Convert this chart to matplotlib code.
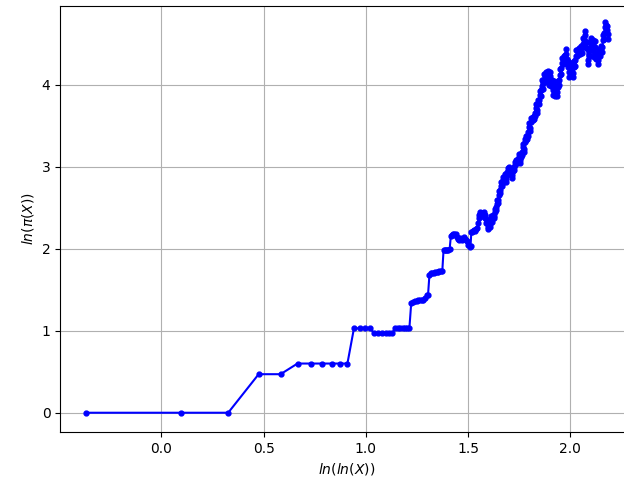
import matplotlib
matplotlib.use("Agg")
import matplotlib.pyplot as plt

# values: x = ln(ln(X)), y = ln(pi(X))
# sparse part (individual points visible)
lnlnX = [-0.367, 0.094, 0.327, 0.476, 0.583, 0.666, 0.732, 0.787, 0.834, 0.875,
         0.910, 0.942, 0.970, 0.996, 1.020, 1.041, 1.061, 1.080, 1.097, 1.113,
         1.128, 1.144, 1.157, 1.169, 1.181, 1.192, 1.203, 1.213,
         1.222, 1.231, 1.240, 1.249, 1.257, 1.265, 1.273, 1.281, 1.289, 1.297,
         1.304, 1.311, 1.318, 1.325, 1.332, 1.339, 1.346, 1.353, 1.360, 1.367, 1.374, 1.380,
         1.386, 1.392, 1.398, 1.404, 1.410, 1.416, 1.421, 1.427, 1.432, 1.437, 1.442, 1.447,
         1.452, 1.457, 1.462, 1.467, 1.472, 1.477, 1.482, 1.487, 1.492, 1.497, 1.502,
         1.507, 1.512, 1.516, 1.520, 1.525, 1.530, 1.535, 1.540, 1.545, 1.550]

ln_pi = [0.0, 0.0, 0.0, 0.47, 0.47, 0.60, 0.60, 0.60, 0.60, 0.60,
         0.60, 1.03, 1.03, 1.03, 1.03, 0.97, 0.97, 0.97, 0.97, 0.97,
         0.97, 1.03, 1.03, 1.03, 1.03, 1.03, 1.03, 1.03,
         1.34, 1.35, 1.36, 1.36, 1.37, 1.37, 1.37, 1.37, 1.40, 1.43,
         1.43, 1.68, 1.70, 1.71, 1.71, 1.72, 1.72, 1.72, 1.73, 1.73, 1.73, 1.98,
         1.98, 1.98, 1.99, 1.99, 2.00, 2.16, 2.17, 2.18, 2.18, 2.17, 2.18, 2.14,
         2.12, 2.11, 2.13, 2.12, 2.11, 2.12, 2.14, 2.12, 2.11, 2.10, 2.05,
         2.02, 2.03, 2.21, 2.20, 2.22, 2.23, 2.22, 2.24, 2.25, 2.32]

# dense part: points pile up, read as two edges of the blob
lnlnX_dense = [1.555, 1.560, 1.565, 1.570, 1.575, 1.580, 1.585, 1.590, 1.595, 1.600,
               1.605, 1.610, 1.615, 1.620, 1.625, 1.630, 1.635, 1.640, 1.645, 1.650,
               1.655, 1.660, 1.665, 1.670, 1.675, 1.680, 1.685, 1.690, 1.695, 1.700,
               1.705, 1.710, 1.715, 1.720, 1.725, 1.730, 1.735, 1.740, 1.745, 1.750,
               1.755, 1.760, 1.765, 1.770, 1.775, 1.780, 1.785, 1.790, 1.795, 1.800,
               1.805, 1.810, 1.815, 1.820, 1.825, 1.830, 1.835, 1.840, 1.845, 1.850,
               1.855, 1.860, 1.865, 1.870, 1.875, 1.880, 1.885, 1.890, 1.895, 1.900,
               1.905, 1.910, 1.915, 1.920, 1.925, 1.930, 1.935, 1.940, 1.945, 1.950,
               1.955, 1.960, 1.965, 1.970, 1.975, 1.980, 1.985, 1.990, 1.995, 2.000,
               2.005, 2.010, 2.015, 2.020, 2.025, 2.030, 2.035, 2.040, 2.045, 2.050,
               2.055, 2.060, 2.065, 2.070, 2.075, 2.080, 2.085, 2.090, 2.095, 2.100,
               2.105, 2.110, 2.115, 2.120, 2.125, 2.130, 2.135, 2.140, 2.145, 2.150,
               2.155, 2.160, 2.165, 2.170, 2.175, 2.180, 2.183]

ln_pi_dense = [2.41, 2.42, 2.43, 2.41, 2.43, 2.42, 2.41, 2.36, 2.27, 2.28,
               2.30, 2.37, 2.36, 2.38, 2.40, 2.45, 2.51, 2.55, 2.60, 2.66,
               2.72, 2.77, 2.80, 2.84, 2.85, 2.87, 2.85, 2.90, 2.98, 2.96,
               2.95, 2.92, 2.90, 2.95, 3.00, 3.02, 3.08, 3.04, 3.10, 3.12,
               3.08, 3.12, 3.18, 3.24, 3.22, 3.30, 3.37, 3.34, 3.42, 3.49,
               3.47, 3.55, 3.61, 3.58, 3.66, 3.72, 3.69, 3.78, 3.81, 3.88,
               3.93, 3.98, 4.02, 4.06, 4.10, 4.08, 4.12, 4.10, 4.06, 4.11,
               4.05, 3.99, 3.94, 3.98, 3.92, 3.93, 3.91, 3.97, 4.06, 4.12,
               4.20, 4.26, 4.32, 4.28, 4.36, 4.38, 4.32, 4.22, 4.15, 4.20,
               4.25, 4.20, 4.14, 4.22, 4.30, 4.35, 4.42, 4.38, 4.44, 4.40,
               4.46, 4.50, 4.56, 4.61, 4.52, 4.45, 4.30, 4.36, 4.42, 4.50,
               4.55, 4.48, 4.40, 4.46, 4.38, 4.32, 4.30, 4.36, 4.42, 4.40,
               4.46, 4.55, 4.63, 4.70, 4.73, 4.67, 4.62]

ln_pi_dense_edge = [2.38, 2.45, 2.40, 2.44, 2.40, 2.45, 2.38, 2.32, 2.24, 2.31,
                    2.27, 2.40, 2.33, 2.41, 2.37, 2.49, 2.47, 2.59, 2.56, 2.70,
                    2.68, 2.81, 2.76, 2.88, 2.81, 2.91, 2.81, 2.94, 2.94, 3.00,
                    2.91, 2.96, 2.86, 2.99, 2.96, 3.06, 3.04, 3.08, 3.06, 3.16,
                    3.04, 3.16, 3.14, 3.28, 3.18, 3.34, 3.33, 3.38, 3.38, 3.53,
                    3.43, 3.59, 3.57, 3.62, 3.62, 3.76, 3.65, 3.82, 3.77, 3.92,
                    3.86, 4.06, 3.95, 4.13, 4.03, 4.15, 4.05, 4.17, 4.00, 4.16,
                    3.99, 4.06, 3.88, 4.04, 3.86, 3.99, 3.86, 4.04, 4.00, 4.19,
                    4.13, 4.33, 4.25, 4.35, 4.29, 4.43, 4.25, 4.29, 4.10, 4.27,
                    4.18, 4.27, 4.09, 4.29, 4.23, 4.42, 4.35, 4.45, 4.37, 4.47,
                    4.39, 4.57, 4.49, 4.66, 4.45, 4.52, 4.25, 4.43, 4.35, 4.57,
                    4.48, 4.55, 4.34, 4.53, 4.32, 4.39, 4.25, 4.43, 4.35, 4.47,
                    4.40, 4.61, 4.56, 4.76, 4.67, 4.72, 4.56]

xs = list(lnlnX)
ys = list(ln_pi)
for x, y1, y2 in zip(lnlnX_dense, ln_pi_dense, ln_pi_dense_edge):
    xs += [x, x]
    ys += [y1, y2]

fig = plt.figure(figsize=(6.24, 4.86), dpi=100)
ax = fig.add_axes([0.0966, 0.1111, 0.919, 0.8765])

ax.plot(xs, ys, 'b.-', markersize=7)
ax.grid()
ax.set_xlim(-0.494, 2.31)
ax.set_ylim(-0.235, 4.96)
ax.set_xticks([0.0, 0.5, 1.0, 1.5, 2.0])
ax.set_yticks([0, 1, 2, 3, 4])
ax.set_xlabel('$ln(ln(X))$')
ax.set_ylabel(r'$ln(\pi(X))$')

fig.savefig("out.png", dpi=100)
